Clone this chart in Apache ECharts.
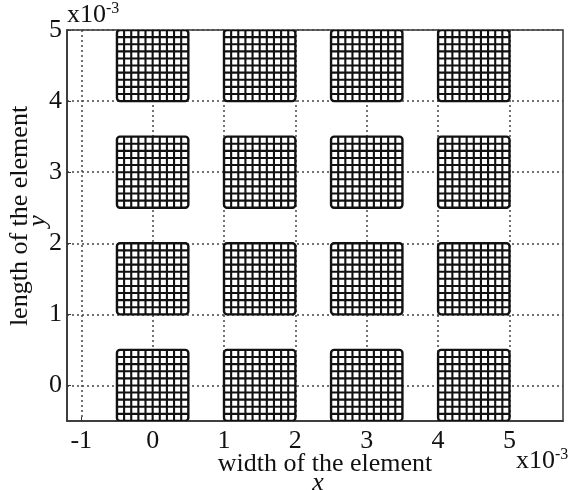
<!DOCTYPE html>
<html>
<head>
<meta charset="utf-8">
<script src="https://cdn.jsdelivr.net/npm/echarts@6/dist/echarts.min.js"></script>
<style>
  html, body { margin: 0; padding: 0; background: #fff; }
  #chart { width: 571px; height: 490px; }
</style>
</head>
<body>
<div id="chart"></div>
<script>
// element columns / rows (x10^-3), each patch is meshed into cells
const patchCols = [[-0.5, 0.5], [1, 2], [2.5, 3.5], [4, 5]];
const patchRows = [[-0.5, 0.5], [1, 2], [2.5, 3.5], [4, 5]];
const cellsPerSide = 10;
const xTicks = [-1, 0, 1, 2, 3, 4, 5];
const yTicks = [0, 1, 2, 3, 4, 5];

const FONT = 'Liberation Serif';

const patches = [];
patchRows.forEach(r => {
  patchCols.forEach(c => {
    patches.push([c[0], c[1], r[0], r[1]]);
  });
});

const chart = echarts.init(document.getElementById('chart'));

function renderMesh(params, api) {
  const x0 = api.value(0), x1 = api.value(1), y0 = api.value(2), y1 = api.value(3);
  const tl = api.coord([x0, y1]);
  const br = api.coord([x1, y0]);
  const children = [{
    type: 'rect',
    shape: { x: tl[0], y: tl[1], width: br[0] - tl[0], height: br[1] - tl[1] },
    style: { fill: '#fff' }
  }];
  for (let i = 1; i < cellsPerSide; i++) {
    const fx = x0 + (x1 - x0) * i / cellsPerSide;
    const fy = y0 + (y1 - y0) * i / cellsPerSide;
    const a = api.coord([fx, y0]), b = api.coord([fx, y1]);
    const c = api.coord([x0, fy]), d = api.coord([x1, fy]);
    children.push({ type: 'line', shape: { x1: a[0], y1: a[1], x2: b[0], y2: b[1] }, style: { stroke: '#111', lineWidth: 2.1 } });
    children.push({ type: 'line', shape: { x1: c[0], y1: c[1], x2: d[0], y2: d[1] }, style: { stroke: '#111', lineWidth: 2.1 } });
  }
  children.push({
    type: 'rect',
    shape: { x: tl[0], y: tl[1], width: br[0] - tl[0], height: br[1] - tl[1], r: 3 },
    style: { fill: 'none', stroke: '#111', lineWidth: 2.4 }
  });
  return { type: 'group', children: children };
}

const expText = {
  text: '{b|x10}{s|-3}',
  rich: {
    b: { fontFamily: FONT, fontSize: 26, fill: '#111' },
    s: { fontFamily: FONT, fontSize: 16, fill: '#111', verticalAlign: 'top', padding: [0, 0, 12, 0] }
  }
};

chart.setOption({
  backgroundColor: '#fff',
  animation: false,
  grid: {
    left: 67, right: 8, top: 30, bottom: 69,
    show: true, borderColor: '#333', borderWidth: 1.5
  },
  xAxis: {
    type: 'value',
    min: -1.2,
    max: 5.75,
    axisLine: { show: true, onZero: false, lineStyle: { color: '#333', width: 1.5 } },
    axisTick: { show: true, inside: true, length: 4, customValues: xTicks, lineStyle: { color: '#333' } },
    axisLabel: { customValues: xTicks, color: '#111', fontFamily: FONT, fontSize: 26, margin: 7 },
    splitLine: { show: true, lineStyle: { color: '#444', width: 1.5, type: [2, 3] } }
  },
  yAxis: {
    type: 'value',
    min: -0.5,
    max: 5,
    axisLine: { show: true, onZero: false, lineStyle: { color: '#333', width: 1.5 } },
    axisTick: { show: true, inside: true, length: 4, customValues: yTicks, lineStyle: { color: '#333' } },
    axisLabel: { customValues: yTicks, color: '#111', fontFamily: FONT, fontSize: 26, margin: 5 },
    splitLine: { show: true, lineStyle: { color: '#444', width: 1.5, type: [2, 3] } }
  },
  graphic: [
    { type: 'text', left: 67, top: 1, style: expText },
    { type: 'text', left: 516, top: 447, style: expText },
    {
      type: 'text', x: 325, y: 464,
      style: { text: 'width of the element', fontFamily: FONT, fontSize: 26, fill: '#111', align: 'center', verticalAlign: 'middle' }
    },
    {
      type: 'text', x: 318, y: 483,
      style: { text: 'x', fontFamily: FONT, fontSize: 26, fontStyle: 'italic', fill: '#111', align: 'center', verticalAlign: 'middle' }
    },
    {
      type: 'text', x: 20, y: 216, rotation: Math.PI / 2,
      style: { text: 'length of the element', fontFamily: FONT, fontSize: 26, fill: '#111', align: 'center', verticalAlign: 'middle' }
    },
    {
      type: 'text', x: 38, y: 221, rotation: Math.PI / 2,
      style: { text: 'y', fontFamily: FONT, fontSize: 26, fontStyle: 'italic', fill: '#111', align: 'center', verticalAlign: 'middle' }
    }
  ],
  series: [{
    type: 'custom',
    renderItem: renderMesh,
    encode: { x: [0, 1], y: [2, 3] },
    data: patches,
    clip: true,
    silent: true
  }]
});
</script>
</body>
</html>
